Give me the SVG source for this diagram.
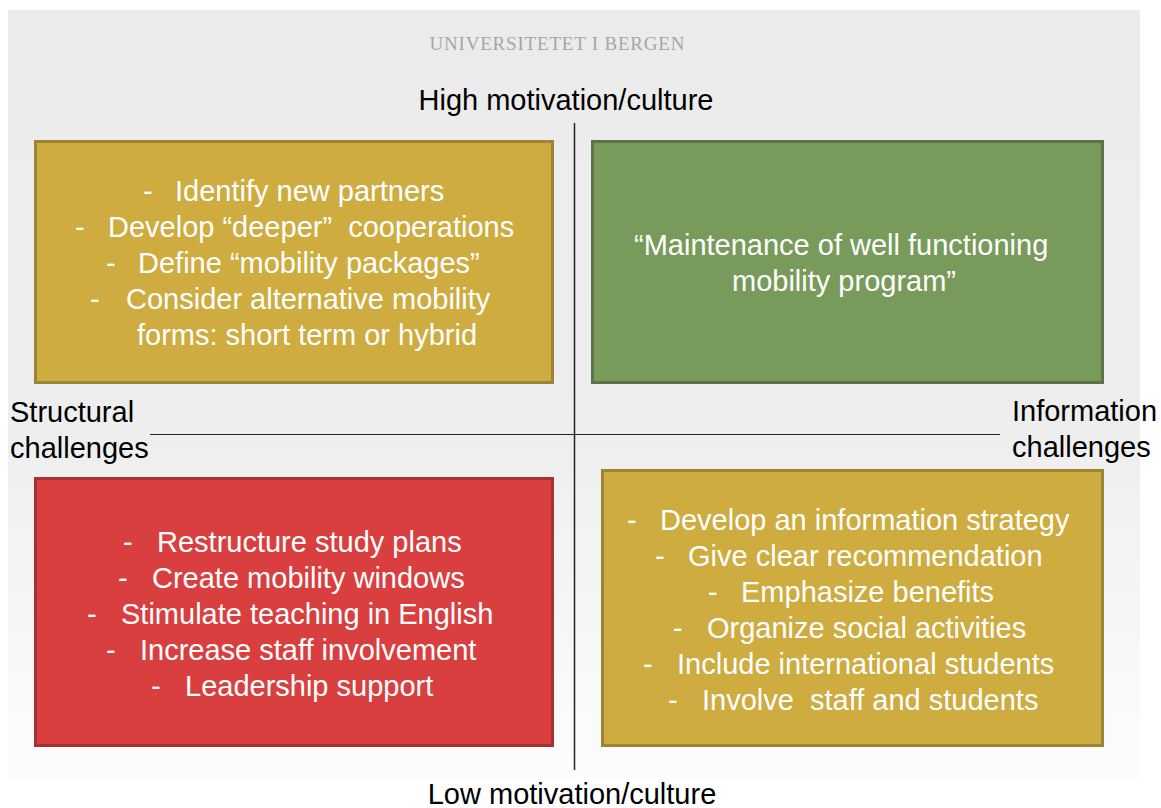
<svg xmlns="http://www.w3.org/2000/svg" width="1161" height="808" viewBox="0 0 1161 808">
<defs>
<linearGradient id="bg" x1="0" y1="0" x2="0" y2="1">
<stop offset="0" stop-color="#ebebeb"/>
<stop offset="0.55" stop-color="#eeeeee"/>
<stop offset="1" stop-color="#fdfdfd"/>
</linearGradient>
<style>
.lbl{font-family:"Liberation Sans",Arial,sans-serif;font-size:29px;fill:#000}
.bt{font-family:"Liberation Sans",Arial,sans-serif;font-size:29px;fill:#fff}
.gold{fill:#ceac3f;stroke:#9c8336;stroke-width:3}
.green{fill:#789b5b;stroke:#5a7543;stroke-width:3}
.red{fill:#d93f3f;stroke:#a53131;stroke-width:3}
.axis{stroke:#222;fill:none}
</style>
</defs>
<rect width="1161" height="808" fill="#ffffff"/>
<rect x="8" y="10" width="1132" height="770" fill="url(#bg)"/>
<text x="557" y="50" text-anchor="middle" font-family="'Liberation Serif',serif" font-size="19" fill="#a6a6a6" textLength="255">UNIVERSITETET I BERGEN</text>
<g id="connectors">
<line class="axis" x1="574.5" y1="123" x2="574.5" y2="770" stroke-width="1.5"/>
<line class="axis" x1="150" y1="434.5" x2="1000" y2="434.5" stroke-width="1.2"/>
</g>
<g id="label-top"><text class="lbl" x="566" y="110" text-anchor="middle">High motivation/culture</text></g>
<g id="label-bottom"><text class="lbl" x="572" y="804" text-anchor="middle">Low motivation/culture</text></g>
<g id="label-left"><text class="lbl" x="10" y="422">Structural</text><text class="lbl" x="10" y="458">challenges</text></g>
<g id="label-right"><text class="lbl" x="1012" y="421">Information</text><text class="lbl" x="1012" y="457">challenges</text></g>
<g id="box-top-left">
<rect class="gold" x="35.5" y="141.5" width="517" height="241"/>
<text class="bt" x="143" y="201">-</text><text class="bt" x="175" y="201">Identify new partners</text>
<text class="bt" x="75" y="237">-</text><text class="bt" x="108" y="237" xml:space="preserve">Develop “deeper”  cooperations</text>
<text class="bt" x="106" y="273">-</text><text class="bt" x="138" y="273">Define “mobility packages”</text>
<text class="bt" x="90" y="309">-</text><text class="bt" x="126" y="309">Consider alternative mobility</text>
<text class="bt" x="137" y="345">forms: short term or hybrid</text>
</g>
<g id="box-top-right">
<rect class="green" x="592.5" y="141.5" width="510" height="241"/>
<text class="bt" x="634" y="255">“Maintenance of well functioning</text>
<text class="bt" x="732" y="291">mobility program”</text>
</g>
<g id="box-bottom-left">
<rect class="red" x="35.5" y="478.5" width="517" height="267"/>
<text class="bt" x="123" y="552">-</text><text class="bt" x="157" y="552">Restructure study plans</text>
<text class="bt" x="118" y="588">-</text><text class="bt" x="152" y="588">Create mobility windows</text>
<text class="bt" x="87" y="624">-</text><text class="bt" x="121" y="624">Stimulate teaching in English</text>
<text class="bt" x="106" y="660">-</text><text class="bt" x="140" y="660">Increase staff involvement</text>
<text class="bt" x="151" y="696">-</text><text class="bt" x="185" y="696">Leadership support</text>
</g>
<g id="box-bottom-right">
<rect class="gold" x="602.5" y="470.5" width="500" height="275"/>
<text class="bt" x="627" y="530">-</text><text class="bt" x="660" y="530">Develop an information strategy</text>
<text class="bt" x="655" y="566">-</text><text class="bt" x="688" y="566">Give clear recommendation</text>
<text class="bt" x="708" y="602">-</text><text class="bt" x="741" y="602">Emphasize benefits</text>
<text class="bt" x="673" y="638">-</text><text class="bt" x="707" y="638">Organize social activities</text>
<text class="bt" x="643" y="674">-</text><text class="bt" x="677" y="674">Include international students</text>
<text class="bt" x="668" y="710">-</text><text class="bt" x="702" y="710" xml:space="preserve">Involve  staff and students</text>
</g>
</svg>
